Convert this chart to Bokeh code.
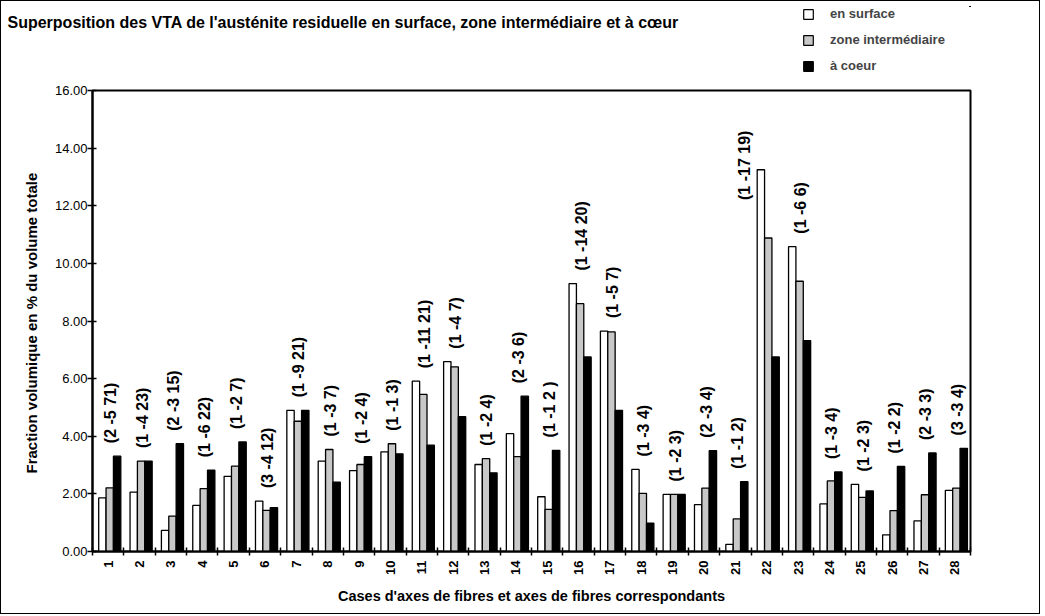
import numpy as np
from bokeh.plotting import figure
from bokeh.layouts import column
from bokeh.models import (ColumnDataSource, FixedTicker, Legend, LegendItem,
                          Range1d, NumeralTickFormatter)
from bokeh.transform import dodge
from bokeh.core.properties import value
from bokeh.embed import file_html
from bokeh.resources import INLINE

# ---------------- data ----------------
cases = [str(i) for i in range(1, 29)]
surface = [1.86, 2.06, 0.73, 1.60, 2.61, 1.75, 4.90, 3.14, 2.81, 3.46, 5.91, 6.59, 3.02, 4.09,
           1.90, 9.30, 7.65, 2.85, 1.98, 1.63, 0.25, 13.25, 10.58, 1.65, 2.33, 0.58, 1.06, 2.12]
intermediate = [2.21, 3.14, 1.23, 2.18, 2.96, 1.43, 4.52, 3.54, 3.02, 3.74, 5.45, 6.41, 3.22, 3.29,
                1.46, 8.60, 7.62, 2.02, 1.98, 2.20, 1.13, 10.88, 9.38, 2.45, 1.88, 1.42, 1.97, 2.20]
core = [3.31, 3.14, 3.74, 2.82, 3.80, 1.52, 4.90, 2.41, 3.29, 3.39, 3.69, 4.68, 2.73, 5.39,
        3.51, 6.75, 4.90, 0.98, 1.98, 3.50, 2.42, 6.75, 7.32, 2.76, 2.10, 2.95, 3.42, 3.58]
fiber_axes = ["(2 -5 71)", "(1 -4 23)", "(2 -3 15)", "(1 -6 22)", "(1 -2 7)", "(3 -4 12)",
              "(1 -9 21)", "(1 -3 7)", "(1 -2 4)", "(1 -1 3)", "(1 -11 21)", "(1 -4 7)",
              "(1 -2 4)", "(2 -3 6)", "(1 -1 2 )", "(1 -14 20)", "(1 -5 7)", "(1 -3 4)",
              "(1 -2 3)", "(2 -3 4)", "(1 -1 2)", "(1 -17 19)", "(1 -6 6)", "(1 -3 4)",
              "(1 -2 3)", "(1 -2 2)", "(2 -3 3)", "(3 -3 4)"]
series_names = ["en surface", "zone intermédiaire", "à coeur"]
series_cols = ["surface", "intermediate", "core"]
series_colors = ["white", "#c8c8c8", "black"]
y_ticks = [0, 2, 4, 6, 8, 10, 12, 14, 16]
title_text = "Superposition des VTA de l'austénite residuelle en surface, zone intermédiaire et à cœur"

# ---------------- layout ----------------
FONT_NAME = "Liberation Sans"
TOTAL_W, TOTAL_H = 1038, 612
HEADER_H = 80
BORDER_L, BORDER_R = 91, 69
W = 0.235      # bar width (category units)
SH = 0.05      # small shift of each bar group

xpos = list(range(1, len(cases) + 1))
LABEL_GAP = 0.45
label_x = [x + 0.08 for x in xpos]
label_y = [max(a, b, c) + LABEL_GAP for a, b, c in zip(surface, intermediate, core)]
# the label of case 22 sits to the left of its tall bar in the original
i22 = cases.index("22")
label_x[i22] -= 0.78
label_y[i22] -= 1.5

src = ColumnDataSource(dict(x=xpos, surface=surface, intermediate=intermediate, core=core,
                            lx=label_x, ly=label_y, label=fiber_axes))

# ---------- header (title + legend) ----------
# its ranges keep the legend renderers out of view (both directions); only their
# legend swatches are shown
hdr = figure(width=TOTAL_W, height=HEADER_H, x_range=Range1d(-3, -2), y_range=Range1d(-3, -2),
             output_backend="svg", toolbar_location=None, x_axis_type=None, y_axis_type=None,
             min_border_left=BORDER_L, min_border_right=BORDER_R, min_border_top=0,
             min_border_bottom=0)
hdr.outline_line_color = None
hdr.grid.visible = False
hdr.title.text = "\n\n" + title_text
hdr.title.align = "left"
hdr.title.offset = -85
hdr.title.vertical_align = "bottom"
hdr.title.standoff = -48
hdr.title.text_font = FONT_NAME
hdr.title.text_font_style = "bold"
hdr.title.text_font_size = "16px"
hdr.title.text_color = "black"

legend_renderers = [hdr.vbar(x=dodge("x", (k - 1) * W + SH, range=hdr.x_range), top=col,
                             width=W, source=src, fill_color=c, line_color="black",
                             line_width=1.2)
                    for k, (col, c) in enumerate(zip(series_cols, series_colors))]
legend = Legend(items=[LegendItem(label=n, renderers=[r])
                       for n, r in zip(series_names, legend_renderers)],
                location=(710, 8), orientation="vertical",
                glyph_width=12, glyph_height=12, label_height=12, spacing=11,
                label_text_font=FONT_NAME, label_text_font_style="bold",
                label_text_font_size="13px", label_standoff=16,
                padding=0, margin=0, border_line_color=None, background_fill_alpha=0)
hdr.add_layout(legend)

# ---------- main chart ----------
p = figure(width=TOTAL_W, height=TOTAL_H - HEADER_H, x_range=Range1d(0.5, 28.5),
           y_range=Range1d(0, 16), output_backend="svg", toolbar_location=None,
           min_border_left=BORDER_L, min_border_right=BORDER_R, min_border_top=9,
           min_border_bottom=62)
p.background_fill_color = "white"
p.border_fill_color = "white"
p.outline_line_color = "black"
p.outline_line_width = 2
p.xgrid.visible = False
p.ygrid.visible = False

for k, (col, color) in enumerate(zip(series_cols, series_colors)):
    p.vbar(x=dodge("x", (k - 1) * W + SH, range=p.x_range), top=col, width=W,
           source=src, fill_color=color, line_color="black", line_width=1.3)

p.text(x="lx", y="ly", text="label", source=src, angle=np.pi / 2, text_align="left",
       text_baseline="middle", text_font=value(FONT_NAME), text_font_style="bold",
       text_font_size="16px", text_color="black")

# x axis
p.xaxis.ticker = FixedTicker(ticks=xpos, minor_ticks=[x - 0.5 for x in xpos] + [xpos[-1] + 0.5])
p.xaxis.major_label_overrides = {x: c for x, c in zip(xpos, cases)}
p.xaxis.major_label_orientation = np.pi / 2
p.xaxis.major_tick_in = 0
p.xaxis.major_tick_out = 0
p.xaxis.minor_tick_in = 4
p.xaxis.minor_tick_out = 4
p.xaxis.minor_tick_line_width = 1.5
p.xaxis.minor_tick_line_color = "black"
p.xaxis.major_label_standoff = 5
p.xaxis.major_label_text_font = FONT_NAME
p.xaxis.major_label_text_font_style = "bold"
p.xaxis.major_label_text_font_size = "13px"
p.xaxis.axis_label = "Cases d'axes de fibres et axes de fibres correspondants"
p.xaxis.axis_label_text_font = FONT_NAME
p.xaxis.axis_label_text_font_style = "bold"
p.xaxis.axis_label_text_font_size = "14.5px"
p.xaxis.axis_label_standoff = 10

# y axis
p.yaxis.ticker = FixedTicker(ticks=y_ticks)
p.yaxis.formatter = NumeralTickFormatter(format="0.00")
p.yaxis.major_tick_in = 4
p.yaxis.major_tick_out = 5
p.yaxis.minor_tick_line_color = None
p.yaxis.major_label_standoff = 0
p.yaxis.major_label_text_font = FONT_NAME
p.yaxis.major_label_text_font_size = "13px"
p.yaxis.axis_label = "Fraction volumique en %  du volume totale"
p.yaxis.axis_label_text_font = FONT_NAME
p.yaxis.axis_label_text_font_style = "bold"
p.yaxis.axis_label_text_font_size = "15px"
p.yaxis.axis_label_standoff = 12

for ax in (p.xaxis[0], p.yaxis[0]):
    ax.axis_line_width = 2
    ax.axis_line_color = "black"
    ax.major_tick_line_width = 1.5
    ax.major_tick_line_color = "black"
    ax.major_label_text_color = "black"
    ax.axis_label_text_color = "black"

layout = column(hdr, p, spacing=0)
layout.styles = {"border": "1px solid black"}

open("out.html", "w").write(file_html(layout, INLINE))
